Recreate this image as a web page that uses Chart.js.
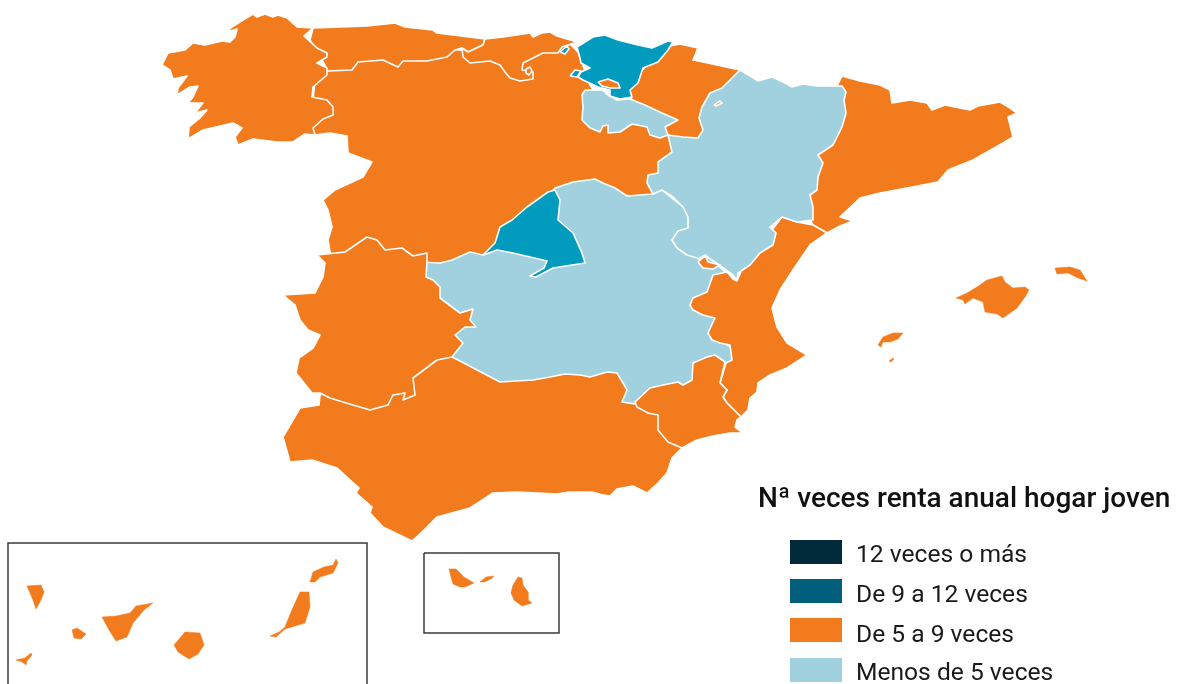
<!DOCTYPE html>
<html lang="es">
<head>
<meta charset="utf-8">
<title>Nª veces renta anual hogar joven</title>
<script src="https://cdn.jsdelivr.net/npm/chart.js@4/dist/chart.umd.min.js"></script>
<style>html,body{margin:0;padding:0;background:#fff}canvas{display:block}</style>
</head>
<body>
<canvas id="c" width="1182" height="684"></canvas>
<script>
const legendTitle = "Nª veces renta anual hogar joven";
const classLabels = ["12 veces o más", "De 9 a 12 veces", "De 5 a 9 veces", "Menos de 5 veces"];
const legendColors = ["#012B3B", "#005F7A", "#F27B1E", "#A1D1DE"];
const mapColors = ["#012B3B", "#009BBD", "#F27B1E", "#A1D1DE"];

// Region outlines in map units, listed from the bottom layer to the top layer.
const castillaLeon = [[315,135],[330,133],[347,136],[348,153],[372,162],[363,177],[335,190],[323,200],[328,210],[332,227],[328,240],[330,252],[335,258],[400,262],[440,270],[500,262],[558,195],[600,190],[650,200],[662,175],[676,150],[670,128],[640,115],[600,100],[590,85],[578,52],[570,44],[540,48],[480,50],[440,50],[340,62],[315,80],[310,130]];
const andalucia = [[320,395],[319,405],[300,408],[283,437],[290,462],[312,460],[337,468],[359,488],[356,493],[372,507],[370,513],[383,527],[412,541],[422,532],[437,517],[470,508],[493,493],[517,492],[557,494],[570,492],[592,492],[603,495],[610,496],[617,489],[633,486],[647,493],[658,483],[667,473],[672,458],[682,448],[670,420],[640,395],[600,350],[500,340],[440,350],[400,380],[360,380]];
const asturias = [[313,28],[367,26],[395,23],[405,27],[433,30],[437,33],[485,39],[483,45],[468,52],[462,48],[455,50],[447,57],[427,61],[403,61],[398,67],[383,60],[358,62],[352,70],[328,71],[322,60],[310,40]];
const galicia = [[297,27],[287,18],[278,15],[273,17],[265,14],[257,17],[253,14],[243,20],[232,27],[227,32],[237,29],[235,37],[230,42],[222,41],[205,45],[193,43],[185,50],[168,53],[162,65],[170,70],[173,79],[187,76],[178,88],[177,95],[190,87],[198,86],[193,97],[188,103],[203,103],[195,113],[207,110],[200,118],[189,127],[188,139],[203,130],[233,123],[242,128],[235,137],[238,145],[253,139],[277,142],[293,142],[305,134],[315,135],[313,128],[323,119],[333,115],[333,107],[327,100],[312,97],[313,87],[327,75],[327,68],[317,63],[327,57],[327,53],[317,48],[304,36],[313,28]];
const cantabria = [[485,39],[503,37],[530,33],[533,37],[542,33],[550,32],[557,36],[577,42],[562,47],[558,53],[543,53],[533,58],[523,63],[522,70],[533,72],[533,79],[520,81],[510,78],[505,72],[500,65],[490,61],[470,63],[463,57],[462,48],[468,52],[483,45]];
const navarra = [[670,46],[680,44],[698,48],[693,60],[703,62],[740,70],[735,90],[715,105],[710,140],[683,145],[668,135],[660,125],[640,108],[628,95],[635,80],[650,60]];
const cataluna = [[842,76],[860,81],[880,85],[890,90],[892,103],[910,100],[927,103],[932,110],[945,105],[970,110],[978,106],[1000,102],[1010,108],[1017,113],[1008,117],[1013,137],[1003,143],[973,160],[948,170],[938,182],[907,188],[880,193],[860,198],[840,217],[853,221],[840,226],[827,233],[813,225],[800,200],[810,150],[830,100]];
const castillaMancha = [[555,188],[573,182],[595,179],[603,183],[615,188],[627,196],[640,195],[653,194],[662,190],[700,220],[690,245],[705,256],[715,262],[728,275],[720,300],[720,340],[735,350],[735,362],[715,370],[700,375],[680,395],[650,395],[640,405],[635,404],[622,402],[627,390],[623,383],[617,373],[607,372],[590,377],[580,375],[565,374],[550,377],[533,380],[500,382],[477,370],[462,362],[452,357],[440,345],[420,300],[420,262],[440,263],[452,260],[470,252],[483,255],[520,230]];
const valencia = [[827,233],[810,245],[793,270],[780,290],[772,308],[777,327],[787,343],[807,355],[787,368],[770,375],[758,383],[757,392],[750,398],[748,410],[741,417],[727,403],[723,397],[727,390],[720,383],[726,363],[732,360],[730,345],[720,343],[712,340],[708,333],[715,318],[703,315],[693,310],[690,305],[693,298],[707,292],[713,275],[727,272],[733,279],[737,281],[745,262],[768,235],[782,217],[797,222],[813,225]];
const murcia = [[741,417],[737,420],[735,427],[743,433],[730,433],[713,436],[697,440],[682,448],[668,442],[658,430],[658,415],[648,413],[637,407],[635,402],[650,388],[663,385],[678,382],[683,385],[692,380],[693,363],[707,357],[715,355],[725,362],[720,383],[727,390],[723,397],[727,403]];
const extremadura = [[317,255],[345,252],[367,237],[377,240],[385,250],[402,248],[413,256],[427,253],[427,262],[426,277],[433,280],[440,287],[440,298],[460,313],[473,309],[470,320],[476,327],[465,327],[455,335],[463,343],[452,357],[437,360],[413,378],[415,395],[403,400],[405,393],[393,395],[388,405],[370,410],[353,405],[343,402],[330,398],[320,393],[312,393],[296,373],[299,358],[313,348],[320,335],[308,330],[300,320],[295,305],[283,295],[315,293],[323,277],[325,263]];
const aragon = [[740,70],[752,77],[758,81],[772,77],[783,82],[792,87],[803,84],[817,86],[842,86],[846,92],[844,100],[846,113],[842,127],[833,145],[818,155],[823,163],[818,177],[817,190],[810,195],[813,207],[813,220],[797,222],[782,217],[770,227],[776,233],[773,245],[760,253],[750,265],[738,273],[737,280],[733,275],[722,267],[709,258],[705,255],[698,259],[697,258],[687,255],[677,248],[672,240],[678,231],[688,228],[688,217],[683,207],[673,197],[662,190],[653,194],[647,183],[648,175],[658,173],[658,162],[672,152],[668,135],[683,137],[698,138],[703,130],[699,118],[702,107],[710,93],[722,88]];
const larioja = [[585,90],[592,90],[602,90],[608,95],[617,100],[630,99],[645,105],[662,113],[678,120],[665,127],[668,135],[660,138],[650,135],[647,127],[632,124],[620,132],[608,133],[608,125],[603,126],[600,132],[590,128],[582,120],[583,107],[582,95]];
const euskadi = [[577,47],[593,37],[605,35],[618,40],[638,45],[652,48],[668,41],[673,42],[668,50],[658,62],[643,68],[638,83],[630,90],[632,97],[620,99],[610,96],[610,90],[598,87],[583,80],[578,77],[581,72],[590,68],[581,63],[580,58]];
const madrid = [[555,190],[548,192],[527,207],[512,220],[500,227],[495,243],[483,255],[497,250],[513,253],[530,257],[547,261],[544,268],[530,276],[536,277],[553,268],[585,263],[582,253],[573,233],[558,220],[560,200]];
const trevino = [[598,82],[608,79],[618,83],[620,88],[610,88],[602,86]];
const ademuz = [[698,262],[705,256],[708,262],[720,265],[713,269],[703,268]];
const villaverde = [[560,52],[567,46],[569,49],[565,54]];
const ordunaEnclave = [[570,76],[575,70],[581,71],[577,77]];
const petilla = [[714,105],[720,101],[722,103],[716,106]];
const rinconBurgos = [[526,69],[530,67],[532,71],[529,75],[526,73]];
const mallorca = [[956,298],[967,293],[977,287],[987,280],[1002,276],[1005,282],[1013,288],[1025,287],[1029,290],[1025,297],[1017,308],[1003,318],[997,314],[985,312],[983,302],[973,298],[965,304],[963,300]];
const menorca = [[1055,268],[1070,267],[1080,270],[1087,281],[1078,278],[1068,273],[1057,274]];
const ibiza = [[878,345],[883,337],[893,333],[903,333],[898,339],[890,342],[883,342],[881,347]];
const formentera = [[889,361],[893,358],[894,359],[891,362]];
const elHierro = [[16,660],[25,658],[31,653],[32,655],[27,661],[26,665],[22,662]];
const laPalma = [[27,586],[41,585],[44,592],[41,600],[36,609],[33,600]];
const laGomera = [[72,630],[77,628],[86,634],[81,639],[74,638]];
const tenerife = [[102,617],[116,616],[130,613],[136,606],[153,603],[144,610],[133,623],[127,637],[116,641],[109,630]];
const granCanaria = [[185,632],[200,633],[204,645],[198,654],[189,659],[178,652],[174,645],[180,638]];
const fuerteventura = [[300,592],[309,592],[310,607],[305,623],[285,629],[276,637],[270,636],[279,632],[285,627],[291,612]];
const lanzarote = [[310,582],[313,572],[324,567],[333,565],[336,559],[338,563],[333,573],[320,577],[315,582]];
const ceuta = [[449,569],[456,569],[464,577],[474,583],[465,587],[460,587],[453,584],[451,577]];
const alboran = [[480,582],[486,577],[494,576],[491,579],[484,582]];
const melilla = [[518,577],[522,578],[523,585],[528,592],[528,600],[532,603],[522,606],[514,600],[511,593],[513,585]];
const insetCanarias = [[8,684],[8,543],[367,543],[367,684]];
const insetCeutaMelilla = [[424,553],[559,553],[559,633],[424,633],[424,553]];

// Index into classLabels for each region, same order as the layers.
const regionLayers = [
  [castillaLeon,2],[andalucia,2],[asturias,2],[galicia,2],[cantabria,2],[navarra,2],[cataluna,2],
  [castillaMancha,3],[valencia,2],[murcia,2],[extremadura,2],[aragon,3],[larioja,3],[euskadi,1],[madrid,1],
  [trevino,2],[ademuz,2],[villaverde,1],[ordunaEnclave,1],[petilla,2],[rinconBurgos,2],
  [mallorca,2],[menorca,2],[ibiza,2],[formentera,2],
  [elHierro,2],[laPalma,2],[laGomera,2],[tenerife,2],[granCanaria,2],[fuerteventura,2],[lanzarote,2],
  [ceuta,2],[alboran,2],[melilla,2]
];
const insetFrames = [insetCanarias, insetCeutaMelilla];

const toPoints = a => a.map(p => ({x: p[0], y: p[1]}));
const total = regionLayers.length + insetFrames.length;
const datasets = regionLayers.map(([outline, cls], i) => {
  const closed = outline.concat([outline[0]]);
  const island = i >= 21;
  return {
    label: classLabels[cls],
    data: toPoints(closed),
    showLine: true, fill: 'shape',
    backgroundColor: mapColors[cls],
    borderColor: island ? mapColors[cls] : '#FFFFFF',
    borderWidth: island ? 0.5 : 1.6,
    borderJoinStyle: 'round',
    pointRadius: 0, pointHoverRadius: 0, tension: 0,
    order: total - i
  };
}).concat(insetFrames.map((outline, i) => ({
  label: 'Recuadro',
  data: toPoints(outline),
  showLine: true, fill: false,
  borderColor: '#3A3A3A', borderWidth: 1.5,
  pointRadius: 0, pointHoverRadius: 0, tension: 0,
  order: 0
})));

const legendPlugin = {
  id: 'mapLegend',
  afterDatasetsDraw(chart) {
    const {ctx, scales: {x, y}} = chart;
    ctx.save();
    ctx.textBaseline = 'alphabetic';
    ctx.fillStyle = '#111111';
    ctx.font = '500 28px Roboto, sans-serif';
    ctx.fillText(legendTitle, x.getPixelForValue(758), y.getPixelForValue(507));
    ctx.font = '400 24.6px Roboto, sans-serif';
    const swatchTops = [540, 579, 618, 658];
    const baselines = [562, 602, 642, 680];
    classLabels.forEach((label, i) => {
      ctx.fillStyle = legendColors[i];
      ctx.fillRect(x.getPixelForValue(790), y.getPixelForValue(swatchTops[i]), 52, 24);
      ctx.fillStyle = '#1A1A1A';
      ctx.fillText(label, x.getPixelForValue(856), y.getPixelForValue(baselines[i]));
    });
    ctx.restore();
  }
};

new Chart(document.getElementById('c'), {
  type: 'scatter',
  data: {datasets},
  plugins: [legendPlugin],
  options: {
    responsive: false,
    animation: false,
    layout: {padding: 0},
    scales: {
      x: {type: 'linear', min: 0, max: 1182, display: false},
      y: {type: 'linear', min: 0, max: 684, reverse: true, display: false}
    },
    plugins: {legend: {display: false}, title: {display: false}, tooltip: {enabled: false}},
    events: []
  }
});
</script>
</body>
</html>
